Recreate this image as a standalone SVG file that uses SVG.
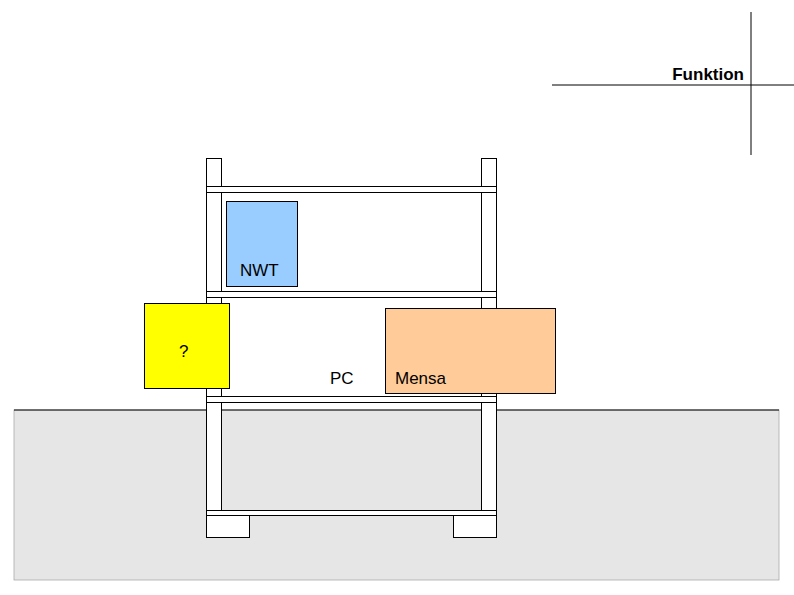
<svg xmlns="http://www.w3.org/2000/svg" width="794" height="595" viewBox="0 0 794 595">
<style>
.s{stroke:#000;stroke-width:1}
.w{fill:#fff}
text{font-family:"Liberation Sans",Arial,sans-serif;font-size:17px;fill:#000}
</style>
<rect width="794" height="595" fill="#fff"/>
<g id="ground"><rect x="14" y="410" width="765" height="170" fill="#e6e6e6" stroke="#aaa" stroke-width="0.8"/><line x1="14" y1="410" x2="779" y2="410" stroke="#000"/></g>
<g id="frame">
<rect class="s w" x="206.5" y="158.5" width="15" height="357"/>
<rect class="s w" x="481.5" y="158.5" width="15" height="357"/>
<rect class="s w" x="206.5" y="186.5" width="290" height="6"/>
<rect class="s w" x="206.5" y="291.5" width="290" height="6"/>
<rect class="s w" x="206.5" y="396.5" width="290" height="6"/>
<rect class="s w" x="206.5" y="510.5" width="290" height="5"/>
<rect class="s w" x="206.5" y="515.5" width="43" height="22"/>
<rect class="s w" x="453.5" y="515.5" width="43" height="22"/>
</g>
<g id="nwt"><rect class="s" x="226.5" y="201.5" width="71" height="85" fill="#99ccff"/><text x="240" y="276">NWT</text></g>
<g id="q"><rect class="s" x="144.5" y="303.5" width="85" height="85" fill="#ffff00"/><text x="179" y="357" font-size="20">?</text></g>
<g id="pc"><text x="330" y="384">PC</text></g>
<g id="mensa"><rect class="s" x="385.5" y="308.5" width="170" height="85" fill="#ffcc99"/><text x="395" y="384">Mensa</text></g>
<g id="cross"><line class="s" x1="552" y1="85" x2="794" y2="85"/><line class="s" x1="751" y1="12" x2="751" y2="155"/><text x="744" y="80" text-anchor="end" font-size="18.5" font-weight="bold">Funktion</text></g>
</svg>
